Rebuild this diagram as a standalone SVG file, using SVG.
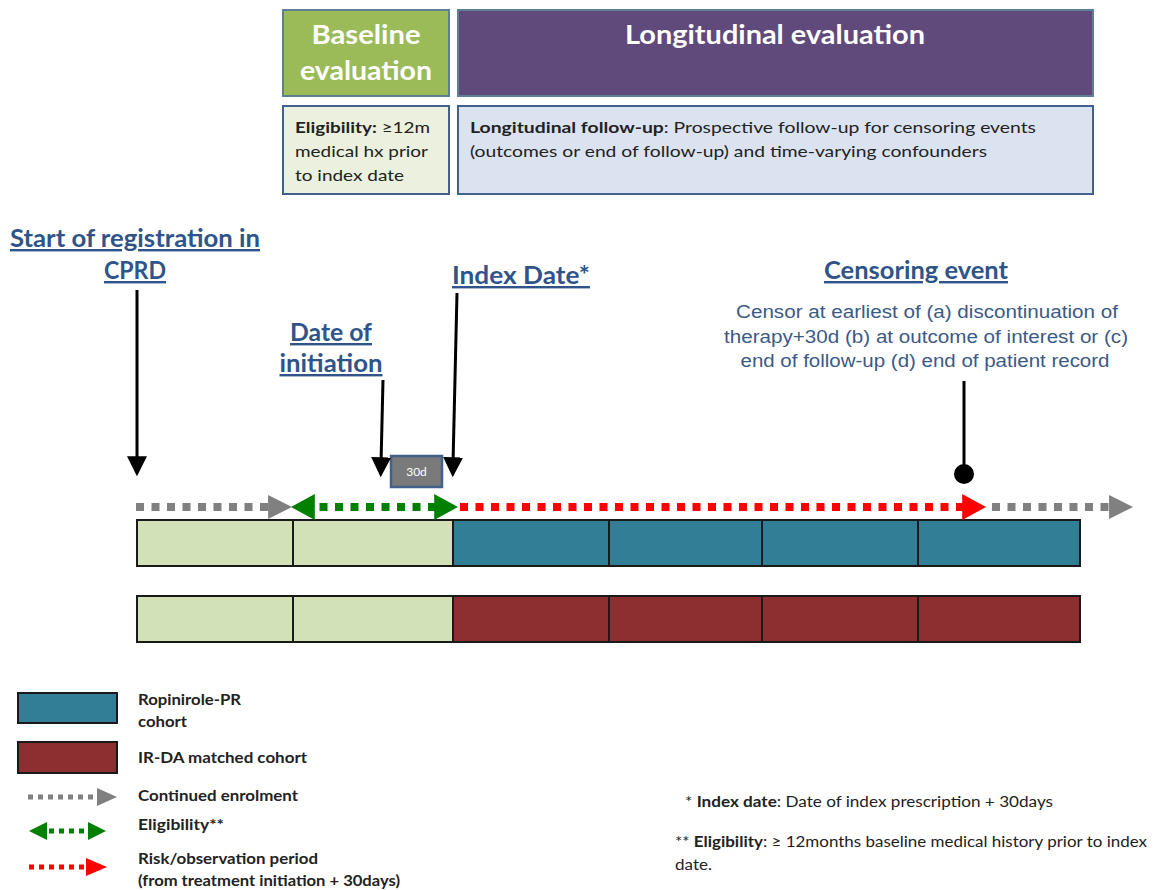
<svg xmlns="http://www.w3.org/2000/svg" width="1154" height="890" viewBox="0 0 1154 890">
<style>
.hd{font-family:Lato,"Open Sans","Liberation Sans",sans-serif;font-weight:bold;font-size:24px;fill:#2e5489;text-decoration:underline;text-anchor:middle}
.box-title{font-family:Lato,"Open Sans","Liberation Sans",sans-serif;font-weight:bold;font-size:26px;fill:#ffffff;text-anchor:middle}
.box-txt{font-family:Lato,"Open Sans","Liberation Sans",sans-serif;font-size:16px;fill:#222}
.cen{font-family:"Liberation Sans",Arial,sans-serif;font-size:17.5px;fill:#3b5a87;text-anchor:middle}
.leg{font-family:Lato,"Open Sans","Liberation Sans",sans-serif;font-weight:bold;font-size:15px;fill:#222}
.foot{font-family:Lato,"Open Sans","Liberation Sans",sans-serif;font-size:14.5px;fill:#222}
.seg{stroke:#1a1a1a;stroke-width:2}
.g{fill:#d3e1b9}.b{fill:#307f96}.r{fill:#8d2f31}
.dot-grey{stroke:#808080;stroke-width:8;stroke-dasharray:8 7.5;fill:none}
.dot-green{stroke:#008000;stroke-width:8;stroke-dasharray:8 7.5;fill:none}
.dot-red{stroke:#ff0000;stroke-width:8;stroke-dasharray:8 7.5;fill:none}
.lg{stroke-width:5;stroke-dasharray:5 5}
.blk{stroke:#000;stroke-width:3;fill:none}
</style>
<defs>
<marker id="hGrey" markerUnits="userSpaceOnUse" markerWidth="24" markerHeight="24" viewBox="0 0 22 22" refX="10" refY="11" orient="auto"><path d="M0,0 L22,11 L0,22 z" fill="#808080"/></marker>
<marker id="hGreen" markerUnits="userSpaceOnUse" markerWidth="24" markerHeight="26" viewBox="0 0 22 24" refX="10" refY="12" orient="auto-start-reverse"><path d="M0,0 L22,12 L0,24 z" fill="#008000"/></marker>
<marker id="hRed" markerUnits="userSpaceOnUse" markerWidth="24" markerHeight="26" viewBox="0 0 22 24" refX="10" refY="12" orient="auto"><path d="M0,0 L22,12 L0,24 z" fill="#ff0000"/></marker>
<marker id="sGrey" markerUnits="userSpaceOnUse" markerWidth="20" markerHeight="18" viewBox="0 0 20 18" refX="8" refY="9" orient="auto"><path d="M0,0 L20,9 L0,18 z" fill="#808080"/></marker>
<marker id="sGreen" markerUnits="userSpaceOnUse" markerWidth="18" markerHeight="18" viewBox="0 0 18 18" refX="8" refY="9" orient="auto-start-reverse"><path d="M0,0 L18,9 L0,18 z" fill="#008000"/></marker>
<marker id="sRed" markerUnits="userSpaceOnUse" markerWidth="21" markerHeight="18" viewBox="0 0 21 18" refX="8" refY="9" orient="auto"><path d="M0,0 L21,9 L0,18 z" fill="#ff0000"/></marker>
<marker id="hBlk" markerUnits="userSpaceOnUse" markerWidth="20" markerHeight="20" viewBox="0 0 18 18" refX="6" refY="9" orient="auto"><path d="M0,0 L18,9 L0,18 z" fill="#000"/></marker>
</defs>
<rect width="1154" height="890" fill="#ffffff"/>

<g id="baseline-eval">
<rect x="283" y="10" width="166" height="86" fill="#9bbb59" stroke="#5f7f95" stroke-width="2"/>
<text class="box-title" x="366" y="44" textLength="109" lengthAdjust="spacingAndGlyphs">Baseline</text>
<text class="box-title" x="366" y="80" textLength="132" lengthAdjust="spacingAndGlyphs">evaluation</text>
</g>
<g id="longitudinal-eval">
<rect x="458" y="10" width="635" height="86" fill="#604a7b" stroke="#5f7f95" stroke-width="2"/>
<text class="box-title" x="775" y="44" textLength="300" lengthAdjust="spacingAndGlyphs">Longitudinal evaluation</text>
</g>
<g id="eligibility-box">
<rect x="283" y="106" width="166" height="88" fill="#ebf1de" stroke="#41618c" stroke-width="2"/>
<text class="box-txt" x="295" y="133" textLength="135" lengthAdjust="spacingAndGlyphs"><tspan font-weight="bold">Eligibility:</tspan> ≥12m</text>
<text class="box-txt" x="295" y="157" textLength="133" lengthAdjust="spacingAndGlyphs">medical hx prior</text>
<text class="box-txt" x="295" y="181" textLength="109" lengthAdjust="spacingAndGlyphs">to index date</text>
</g>
<g id="followup-box">
<rect x="458" y="106" width="635" height="88" fill="#dce3f0" stroke="#41618c" stroke-width="2"/>
<text class="box-txt" x="470" y="133" textLength="566" lengthAdjust="spacingAndGlyphs"><tspan font-weight="bold">Longitudinal follow-up</tspan>:  Prospective follow-up for censoring events</text>
<text class="box-txt" x="470" y="157" textLength="517" lengthAdjust="spacingAndGlyphs">(outcomes or end of follow-up) and time-varying confounders</text>
</g>

<g id="label-start">
<text class="hd" x="135" y="247" textLength="250" lengthAdjust="spacingAndGlyphs">Start of registration in</text>
<text class="hd" x="135" y="279" textLength="62" lengthAdjust="spacingAndGlyphs">CPRD</text>
</g>
<g id="label-initiation">
<text class="hd" x="331" y="341" textLength="82" lengthAdjust="spacingAndGlyphs">Date of</text>
<text class="hd" x="331" y="372" textLength="103" lengthAdjust="spacingAndGlyphs">initiation</text>
</g>
<g id="label-index">
<text class="hd" x="521" y="284" textLength="138" lengthAdjust="spacingAndGlyphs">Index Date*</text>
</g>
<g id="label-censoring">
<text class="hd" x="916" y="279" textLength="184" lengthAdjust="spacingAndGlyphs">Censoring event</text>
<text class="cen" x="927" y="318" textLength="382" lengthAdjust="spacingAndGlyphs">Censor at earliest of (a) discontinuation of</text>
<text class="cen" x="926" y="343" textLength="404" lengthAdjust="spacingAndGlyphs">therapy+30d (b) at outcome of interest or (c)</text>
<text class="cen" x="925" y="367" textLength="369" lengthAdjust="spacingAndGlyphs">end of follow-up (d) end of patient record</text>
</g>

<g id="box-30d">
<rect x="391" y="456" width="51" height="31" fill="#7a7a7a" stroke="#41618c" stroke-width="2.5"/>
<text x="416.5" y="476" font-family="Lato,'Open Sans','Liberation Sans',sans-serif" font-size="12" fill="#ffffff" text-anchor="middle">30d</text>
</g>

<g id="row-ropinirole">
<rect class="seg g" x="137" y="520" width="156" height="46"/>
<rect class="seg g" x="293" y="520" width="160" height="46"/>
<rect class="seg b" x="453" y="520" width="156" height="46"/>
<rect class="seg b" x="609" y="520" width="153" height="46"/>
<rect class="seg b" x="762" y="520" width="156" height="46"/>
<rect class="seg b" x="918" y="520" width="162" height="46"/>
</g>
<g id="row-irda">
<rect class="seg g" x="137" y="596" width="156" height="46"/>
<rect class="seg g" x="293" y="596" width="160" height="46"/>
<rect class="seg r" x="453" y="596" width="156" height="46"/>
<rect class="seg r" x="609" y="596" width="153" height="46"/>
<rect class="seg r" x="762" y="596" width="156" height="46"/>
<rect class="seg r" x="918" y="596" width="162" height="46"/>
</g>

<g id="connectors">
<line class="blk" x1="137" y1="290" x2="137" y2="463" marker-end="url(#hBlk)"/>
<line class="blk" x1="383" y1="380" x2="381" y2="464" marker-end="url(#hBlk)"/>
<line class="blk" x1="457" y1="293" x2="453" y2="464" marker-end="url(#hBlk)"/>
<line class="blk" x1="964" y1="381" x2="964" y2="474"/>
<circle cx="964" cy="474" r="10" fill="#000"/>
<line class="dot-grey" x1="136" y1="507" x2="279" y2="507" marker-end="url(#hGrey)"/>
<line class="dot-green" x1="304" y1="507" x2="445" y2="507" marker-start="url(#hGreen)" marker-end="url(#hGreen)"/>
<line class="dot-red" x1="460" y1="507" x2="973" y2="507" marker-end="url(#hRed)"/>
<line class="dot-grey" x1="992" y1="507" x2="1120" y2="507" marker-end="url(#hGrey)"/>
</g>

<g id="legend">
<rect x="18" y="693" width="99" height="30" fill="#307f96" stroke="#1a1a1a" stroke-width="2"/>
<text class="leg" x="138" y="705" textLength="103" lengthAdjust="spacingAndGlyphs">Ropinirole-PR</text>
<text class="leg" x="138" y="727" textLength="49" lengthAdjust="spacingAndGlyphs">cohort</text>
<rect x="18" y="742" width="99" height="31" fill="#8d2f31" stroke="#1a1a1a" stroke-width="2"/>
<text class="leg" x="138" y="763" textLength="169" lengthAdjust="spacingAndGlyphs">IR-DA  matched cohort</text>
<line class="dot-grey lg" x1="28" y1="797" x2="105" y2="797" marker-end="url(#sGrey)"/>
<text class="leg" x="138" y="801" textLength="160" lengthAdjust="spacingAndGlyphs">Continued enrolment</text>
<line class="dot-green lg" x1="39" y1="831" x2="96" y2="831" marker-start="url(#sGreen)" marker-end="url(#sGreen)"/>
<text class="leg" x="138" y="830" textLength="86" lengthAdjust="spacingAndGlyphs">Eligibility**</text>
<line class="dot-red lg" x1="29" y1="867" x2="94" y2="867" marker-end="url(#sRed)"/>
<text class="leg" x="138" y="864" textLength="180" lengthAdjust="spacingAndGlyphs">Risk/observation period</text>
<text class="leg" x="138" y="886" font-weight="normal" textLength="262" lengthAdjust="spacingAndGlyphs">(from treatment initiation + 30days)</text>
</g>

<g id="footnotes">
<text class="foot" x="685" y="807" textLength="368" lengthAdjust="spacingAndGlyphs">*  <tspan font-weight="bold">Index date</tspan>: Date of  index prescription + 30days</text>
<text class="foot" x="675" y="847" textLength="472" lengthAdjust="spacingAndGlyphs">** <tspan font-weight="bold">Eligibility</tspan>: ≥ 12months baseline medical history prior to index</text>
<text class="foot" x="675" y="870" textLength="37" lengthAdjust="spacingAndGlyphs">date.</text>
</g>
</svg>
